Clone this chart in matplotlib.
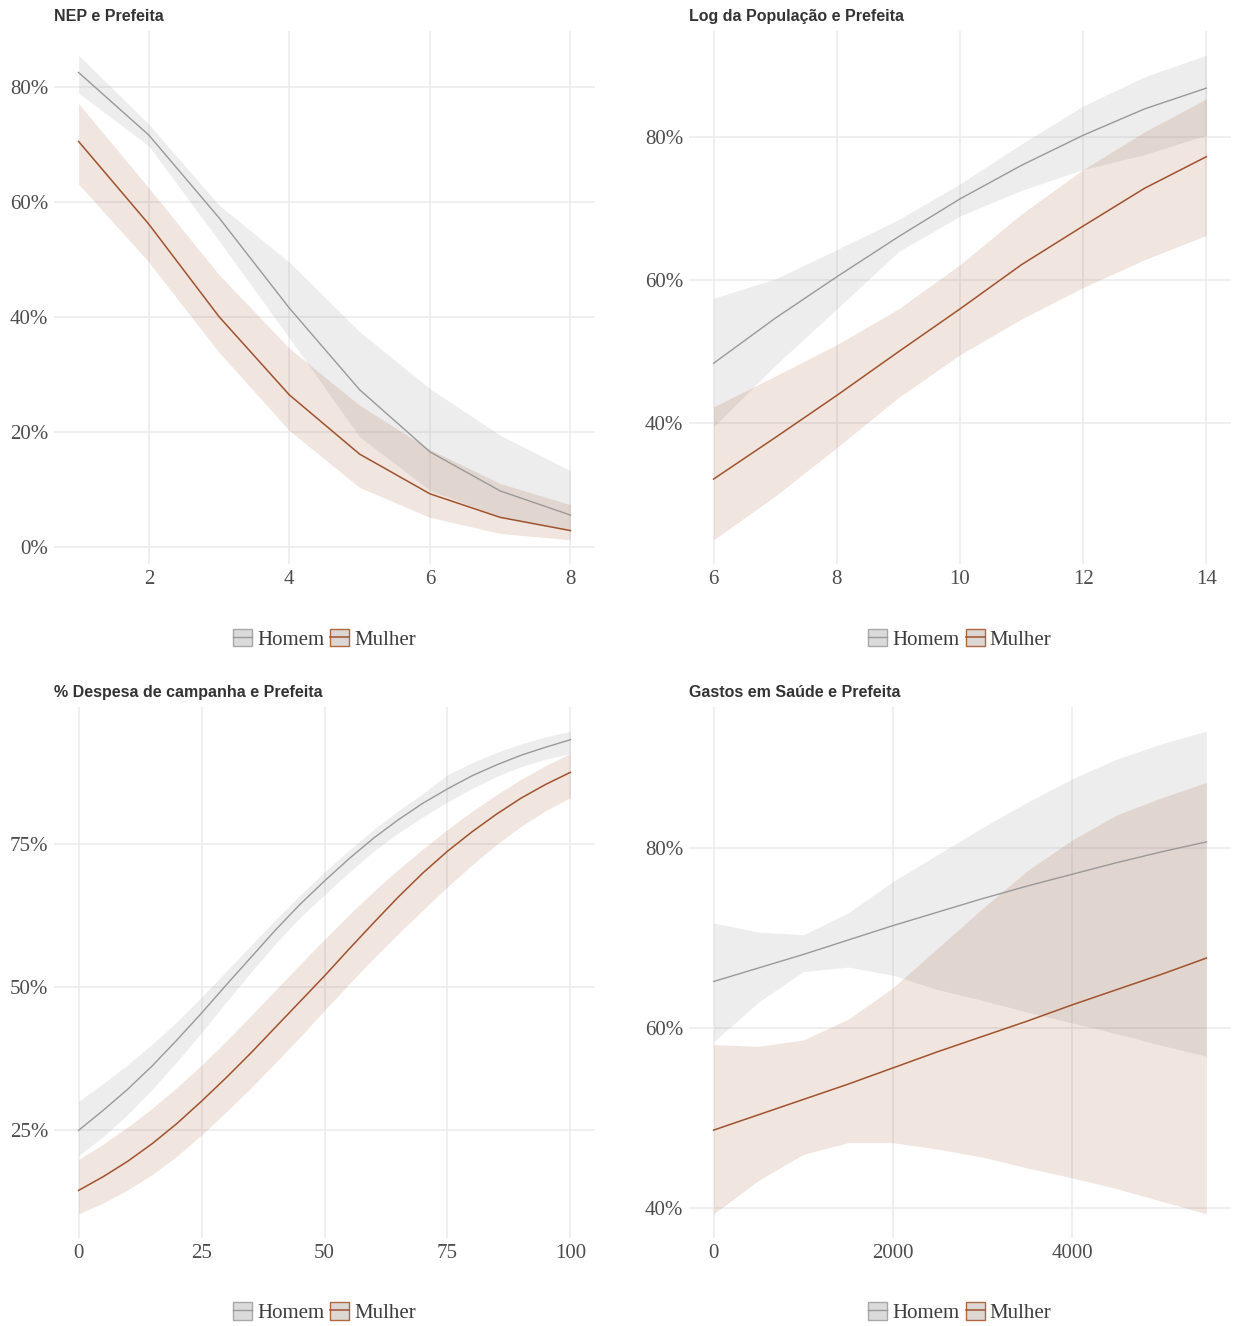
import matplotlib
matplotlib.use('Agg')
import matplotlib.pyplot as plt
from matplotlib.patches import Patch
from matplotlib.lines import Line2D

# --- NEP e Prefeita ---
nep_x = [1, 2, 3, 4, 5, 6, 7, 8]
nep_h = [82.5, 71.6, 57.2, 41.5, 27.3, 16.5, 9.7, 5.5]
nep_h_hi = [85.5, 73.5, 59.4, 49.5, 37.4, 27.5, 19.4, 13.2]
nep_h_lo = [78.9, 69.7, 53.2, 36.3, 19.1, 9.8, 5.2, 2.8]
nep_m = [70.5, 56.1, 40.0, 26.4, 16.1, 9.2, 5.1, 2.8]
nep_m_hi = [77.1, 62.4, 47.3, 34.5, 24.6, 16.9, 11.0, 7.3]
nep_m_lo = [63.1, 49.5, 33.8, 20.2, 10.3, 5.1, 2.3, 1.2]

# --- Log da Populacao ---
pop_x = [6, 7, 8, 9, 10, 11, 12, 13, 14]
pop_h = [48.3, 54.6, 60.4, 66.0, 71.3, 76.0, 80.2, 83.9, 86.8]
pop_h_hi = [57.4, 60.1, 64.2, 68.4, 73.4, 79.0, 84.3, 88.4, 91.4]
pop_h_lo = [39.4, 48.0, 55.9, 63.9, 68.9, 72.5, 75.4, 77.5, 80.2]
pop_m = [32.1, 37.9, 43.8, 49.9, 55.9, 62.1, 67.5, 72.8, 77.2]
pop_m_hi = [42.2, 46.5, 50.9, 55.9, 62.1, 69.2, 75.4, 80.7, 85.3]
pop_m_lo = [23.6, 29.7, 36.5, 43.5, 49.5, 54.5, 58.9, 62.8, 66.2]

# --- % Despesa de campanha ---
desp_x = [0, 5, 10, 15, 20, 25, 30, 35, 40, 45, 50,
          55, 60, 65, 70, 75, 80, 85, 90, 95, 100]
desp_h = [25.0, 28.5, 32.2, 36.3, 40.8, 45.5, 50.4, 55.2, 60.0, 64.5, 68.6,
          72.5, 76.1, 79.3, 82.2, 84.7, 87.0, 88.9, 90.6, 92.0, 93.3]
desp_h_hi = [30.1, 33.2, 36.5, 40.1, 44.0, 48.3, 52.8, 57.3, 61.8, 66.1, 70.2,
             74.0, 77.6, 80.9, 83.9, 87.2, 89.3, 91.1, 92.6, 93.8, 94.8]
desp_h_lo = [20.6, 23.9, 27.8, 32.2, 37.0, 42.1, 47.4, 52.6, 57.6, 62.2, 66.2,
             70.1, 73.8, 77.0, 79.8, 82.4, 84.8, 86.9, 88.6, 89.9, 90.9]
desp_m = [14.5, 16.9, 19.6, 22.7, 26.2, 30.1, 34.2, 38.5, 43.0, 47.5, 52.0,
          56.7, 61.3, 65.8, 70.0, 73.8, 77.2, 80.3, 83.1, 85.5, 87.6]
desp_m_hi = [19.9, 22.6, 25.6, 28.9, 32.5, 36.4, 40.6, 45.0, 49.5, 54.0, 58.4,
             62.7, 66.8, 70.6, 74.2, 77.6, 80.8, 83.7, 86.4, 88.8, 90.9]
desp_m_lo = [10.4, 12.3, 14.6, 17.3, 20.5, 24.2, 28.2, 32.4, 36.8, 41.3, 46.0,
             50.6, 55.1, 59.4, 63.5, 67.6, 71.4, 75.0, 78.2, 80.9, 83.2]

# --- Gastos em Saude ---
saude_x = [0, 500, 1000, 1500, 2000, 2500, 3000, 3500, 4000, 4500, 5000, 5500]
saude_h = [65.2, 66.7, 68.2, 69.8, 71.4, 72.9, 74.4, 75.8, 77.1, 78.4, 79.6, 80.7]
saude_h_hi = [71.7, 70.7, 70.4, 72.8, 76.3, 79.3, 82.3, 85.1, 87.7, 89.9, 91.6, 93.0]
saude_h_lo = [58.5, 62.9, 66.3, 66.8, 65.9, 64.3, 63.1, 61.8, 60.6, 59.4, 58.1, 56.9]
saude_m = [48.7, 50.4, 52.1, 53.8, 55.6, 57.4, 59.1, 60.8, 62.6, 64.3, 66.0, 67.8]
saude_m_hi = [58.2, 58.0, 58.7, 61.0, 64.5, 68.9, 73.3, 77.5, 80.9, 83.7, 85.6, 87.3]
saude_m_lo = [39.4, 43.1, 46.0, 47.3, 47.3, 46.6, 45.7, 44.5, 43.4, 42.2, 40.8, 39.4]

titles = ['NEP e Prefeita', 'Log da População e Prefeita',
          '% Despesa de campanha e Prefeita', 'Gastos em Saúde e Prefeita']
xticks = [[2, 4, 6, 8], [6, 8, 10, 12, 14], [0, 25, 50, 75, 100], [0, 2000, 4000]]
yticks = [[0, 20, 40, 60, 80], [40, 60, 80], [25, 50, 75], [40, 60, 80]]
labels = ['Homem', 'Mulher']

col_h = '#999999'
col_m = '#a0522d'
grid_col = '#ebebee'
txt_col = '#4d4d4d'
serif = 'Liberation Serif'

panels = [
    (nep_x, nep_h, nep_h_lo, nep_h_hi, nep_m, nep_m_lo, nep_m_hi),
    (pop_x, pop_h, pop_h_lo, pop_h_hi, pop_m, pop_m_lo, pop_m_hi),
    (desp_x, desp_h, desp_h_lo, desp_h_hi, desp_m, desp_m_lo, desp_m_hi),
    (saude_x, saude_h, saude_h_lo, saude_h_hi, saude_m, saude_m_lo, saude_m_hi),
]

W, H = 1237, 1326
# axes boxes in pixels: left, top, right, bottom
boxes = [(54, 31, 595, 564), (689, 31, 1231, 564),
         (54, 707, 595, 1238), (689, 707, 1231, 1238)]

fig = plt.figure(figsize=(W / 100, H / 100), dpi=100)

for i, p in enumerate(panels):
    x, h, hlo, hhi, m, mlo, mhi = p
    l, t, r, b = boxes[i]
    ax = fig.add_axes([l / W, 1 - b / H, (r - l) / W, (b - t) / H])

    ax.fill_between(x, hlo, hhi, color=col_h, alpha=0.17, lw=0, zorder=2)
    ax.fill_between(x, mlo, mhi, color=col_m, alpha=0.15, lw=0, zorder=2)
    ax.plot(x, h, color=col_h, lw=1.0, zorder=3)
    ax.plot(x, m, color=col_m, lw=1.1, zorder=3)

    xr = max(x) - min(x)
    ax.set_xlim(min(x) - 0.05 * xr, max(x) + 0.05 * xr)
    ylo = min(hlo + mlo)
    yhi = max(hhi + mhi)
    yr = yhi - ylo
    ax.set_ylim(ylo - 0.05 * yr, yhi + 0.05 * yr)

    ax.set_xticks(xticks[i])
    ax.set_xticklabels([str(v) for v in xticks[i]])
    ax.set_yticks(yticks[i])
    ax.set_yticklabels([str(v) + '%' for v in yticks[i]])
    ax.grid(True, color=grid_col, lw=1.1, zorder=0)
    ax.set_axisbelow(True)
    for s in ax.spines.values():
        s.set_visible(False)
    ax.tick_params(length=0, pad=4, labelsize=15, labelcolor=txt_col)
    for lab in ax.get_xticklabels() + ax.get_yticklabels():
        lab.set_fontfamily(serif)

    ax.text(0.0, 1.027, titles[i], transform=ax.transAxes, ha='left', va='center',
            fontsize=11.5, fontweight='bold', color='#333333', family='Liberation Sans')

    handles = [
        (Patch(facecolor='#dadada', edgecolor='#a8a8a8', lw=1.0),
         Line2D([], [], color=col_h, lw=1.0)),
        (Patch(facecolor='#dcd7d3', edgecolor='#b0673f', lw=1.0),
         Line2D([], [], color=col_m, lw=1.1)),
    ]
    leg = ax.legend(handles, labels, loc='center', bbox_to_anchor=(0.5, -0.141),
                    ncol=2, frameon=False, handlelength=0.9, handleheight=0.9,
                    handletextpad=0.25, columnspacing=0.3,
                    prop={'family': serif, 'size': 15})
    for txt in leg.get_texts():
        txt.set_color('#3d3d3d')

fig.savefig('out.png', dpi=100)
